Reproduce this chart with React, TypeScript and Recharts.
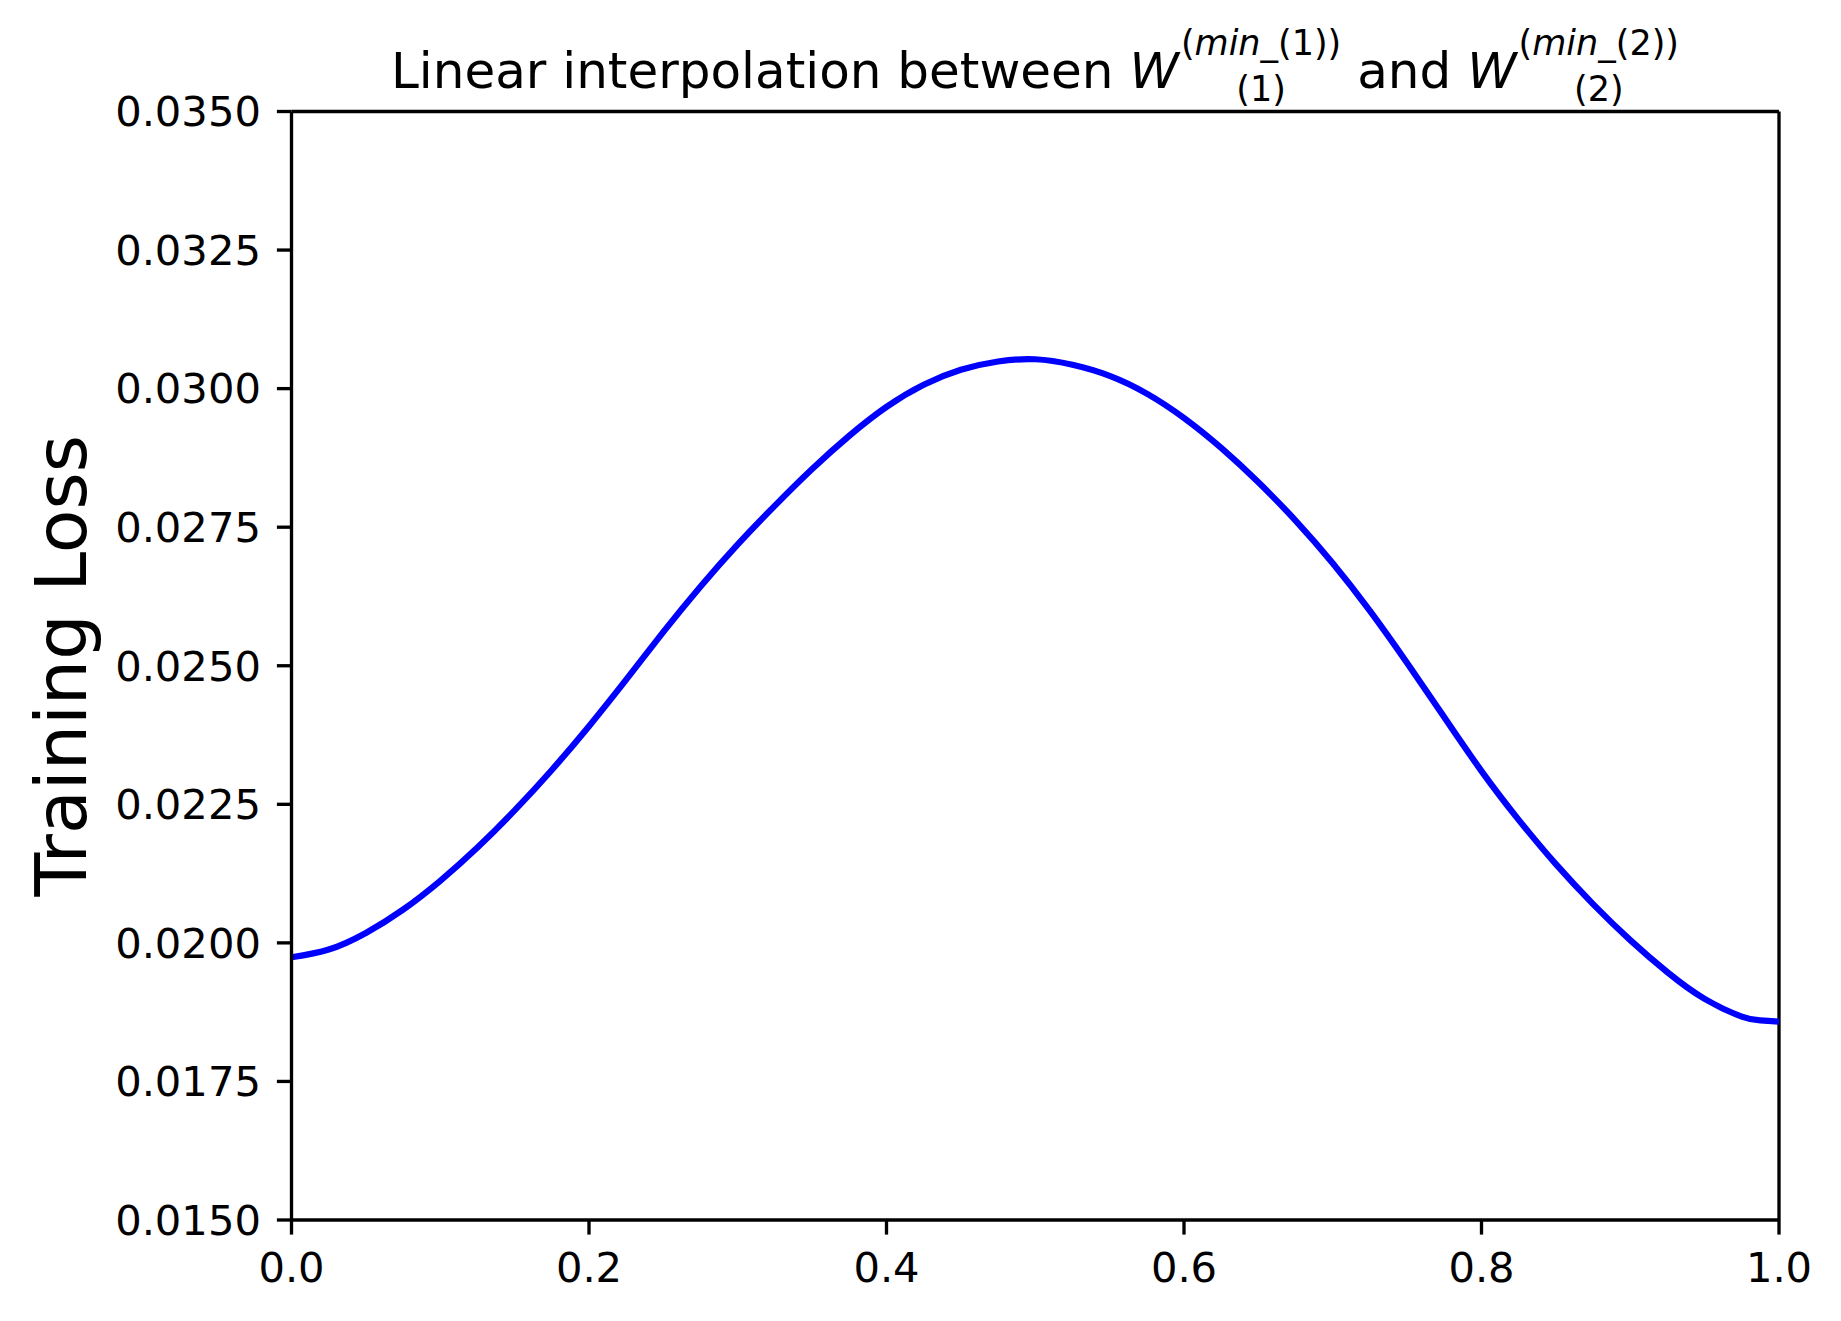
import React from "react";
import { LineChart, Line, XAxis, YAxis, ReferenceLine } from "recharts";

const xValues = [
  0.0, 0.025, 0.05, 0.075, 0.1, 0.125, 0.15, 0.175, 0.2, 0.225, 0.25, 0.275, 0.3, 0.325,
  0.35, 0.375, 0.4, 0.425, 0.45, 0.475, 0.5, 0.525, 0.55, 0.575, 0.6, 0.625, 0.65, 0.675,
  0.7, 0.725, 0.75, 0.775, 0.8, 0.825, 0.85, 0.875, 0.9, 0.925, 0.95, 0.975, 0.9875, 1.0,
];

const lossValues = [
  0.01974, 0.01988, 0.02018, 0.0206, 0.02112, 0.02172, 0.02239, 0.02312, 0.02391, 0.02475,
  0.02561, 0.02643, 0.02719, 0.02789, 0.02855, 0.02915, 0.02967, 0.03007, 0.03034, 0.03049,
  0.03053, 0.03043, 0.03023, 0.02991, 0.02947, 0.02893, 0.02831, 0.02762, 0.02685, 0.02599,
  0.02505, 0.02407, 0.0231, 0.02222, 0.02142, 0.0207, 0.02005, 0.01947, 0.01899, 0.01867,
  0.0186, 0.01858,
];

const xTicks = [0, 0.2, 0.4, 0.6, 0.8, 1.0];
const yTicks = [0.015, 0.0175, 0.02, 0.0225, 0.025, 0.0275, 0.03, 0.0325, 0.035];

const titleText = "Linear interpolation between ";
const yLabelText = "Training Loss";

const data = xValues.map((x, i) => ({ x, loss: lossValues[i] }));

const FONT = "'DejaVu Sans', sans-serif";
const TICK_FS = 41.67;
const SPINE = 3.33;

function Stack({ sup, sub }: { sup: React.ReactNode; sub: React.ReactNode }) {
  return (
    <span
      style={{
        display: "inline-flex",
        flexDirection: "column",
        fontSize: 35,
        lineHeight: "46px",
        position: "relative",
        top: -33,
        marginLeft: 2,
      }}
    >
      <span>{sup}</span>
      <span>{sub}</span>
    </span>
  );
}

export default function App() {
  const W = 1825;
  const H = 1305;
  return (
    <div style={{ position: "relative", width: W, height: H, background: "#fff" }}>
      <LineChart
        width={W}
        height={H}
        data={data}
        margin={{ top: 103.5, right: 54, bottom: 33, left: 83.5 }}
      >
        <XAxis
          dataKey="x"
          type="number"
          domain={[0, 1]}
          ticks={xTicks}
          allowDataOverflow
          height={60}
          tickSize={14.6}
          tickMargin={17.5}
          tickFormatter={(v: number) => v.toFixed(1)}
          axisLine={{ stroke: "#000", strokeWidth: SPINE }}
          tickLine={{ stroke: "#000", strokeWidth: SPINE }}
          tick={{ fill: "#000", fontSize: TICK_FS, fontFamily: FONT }}
        />
        <YAxis
          type="number"
          domain={[0.015, 0.035]}
          ticks={yTicks}
          allowDataOverflow
          width={200}
          tickSize={14.6}
          tickMargin={16}
          tickFormatter={(v: number) => v.toFixed(4)}
          axisLine={{ stroke: "#000", strokeWidth: SPINE }}
          tickLine={{ stroke: "#000", strokeWidth: SPINE }}
          tick={{ fill: "#000", fontSize: TICK_FS, fontFamily: FONT }}
          label={{
            content: (props: any) => {
              const vb = props.viewBox || { x: 0, y: 0, width: 0, height: 0 };
              const cy = vb.y + vb.height / 2;
              const bx = 78;
              return (
                <text
                  x={bx}
                  y={cy}
                  transform={`rotate(-90, ${bx}, ${cy})`}
                  textAnchor="middle"
                  fontFamily={FONT}
                  fontSize={71.5}
                  fill="#000"
                >
                  {yLabelText}
                </text>
              );
            },
          }}
        />
        <ReferenceLine x={1} stroke="#000" strokeWidth={SPINE} ifOverflow="visible" />
        <ReferenceLine y={0.035} stroke="#000" strokeWidth={SPINE} ifOverflow="visible" />
        <Line
          type="natural"
          dataKey="loss"
          stroke="#0000ff"
          strokeWidth={6.25}
          dot={false}
          activeDot={false}
          isAnimationActive={false}
        />
      </LineChart>
      <div
        style={{
          position: "absolute",
          left: 327,
          top: 37.7,
          width: 1400,
          textAlign: "center",
          fontFamily: FONT,
          fontSize: 50,
          lineHeight: "50px",
          whiteSpace: "nowrap",
          color: "#000",
        }}
      >
        {titleText}
        <i>W</i>
        <Stack sup={<>(<i>min</i>_(1))</>} sub={<>(1)</>} />
        {" and "}
        <i>W</i>
        <Stack sup={<>(<i>min</i>_(2))</>} sub={<>(2)</>} />
      </div>
    </div>
  );
}
